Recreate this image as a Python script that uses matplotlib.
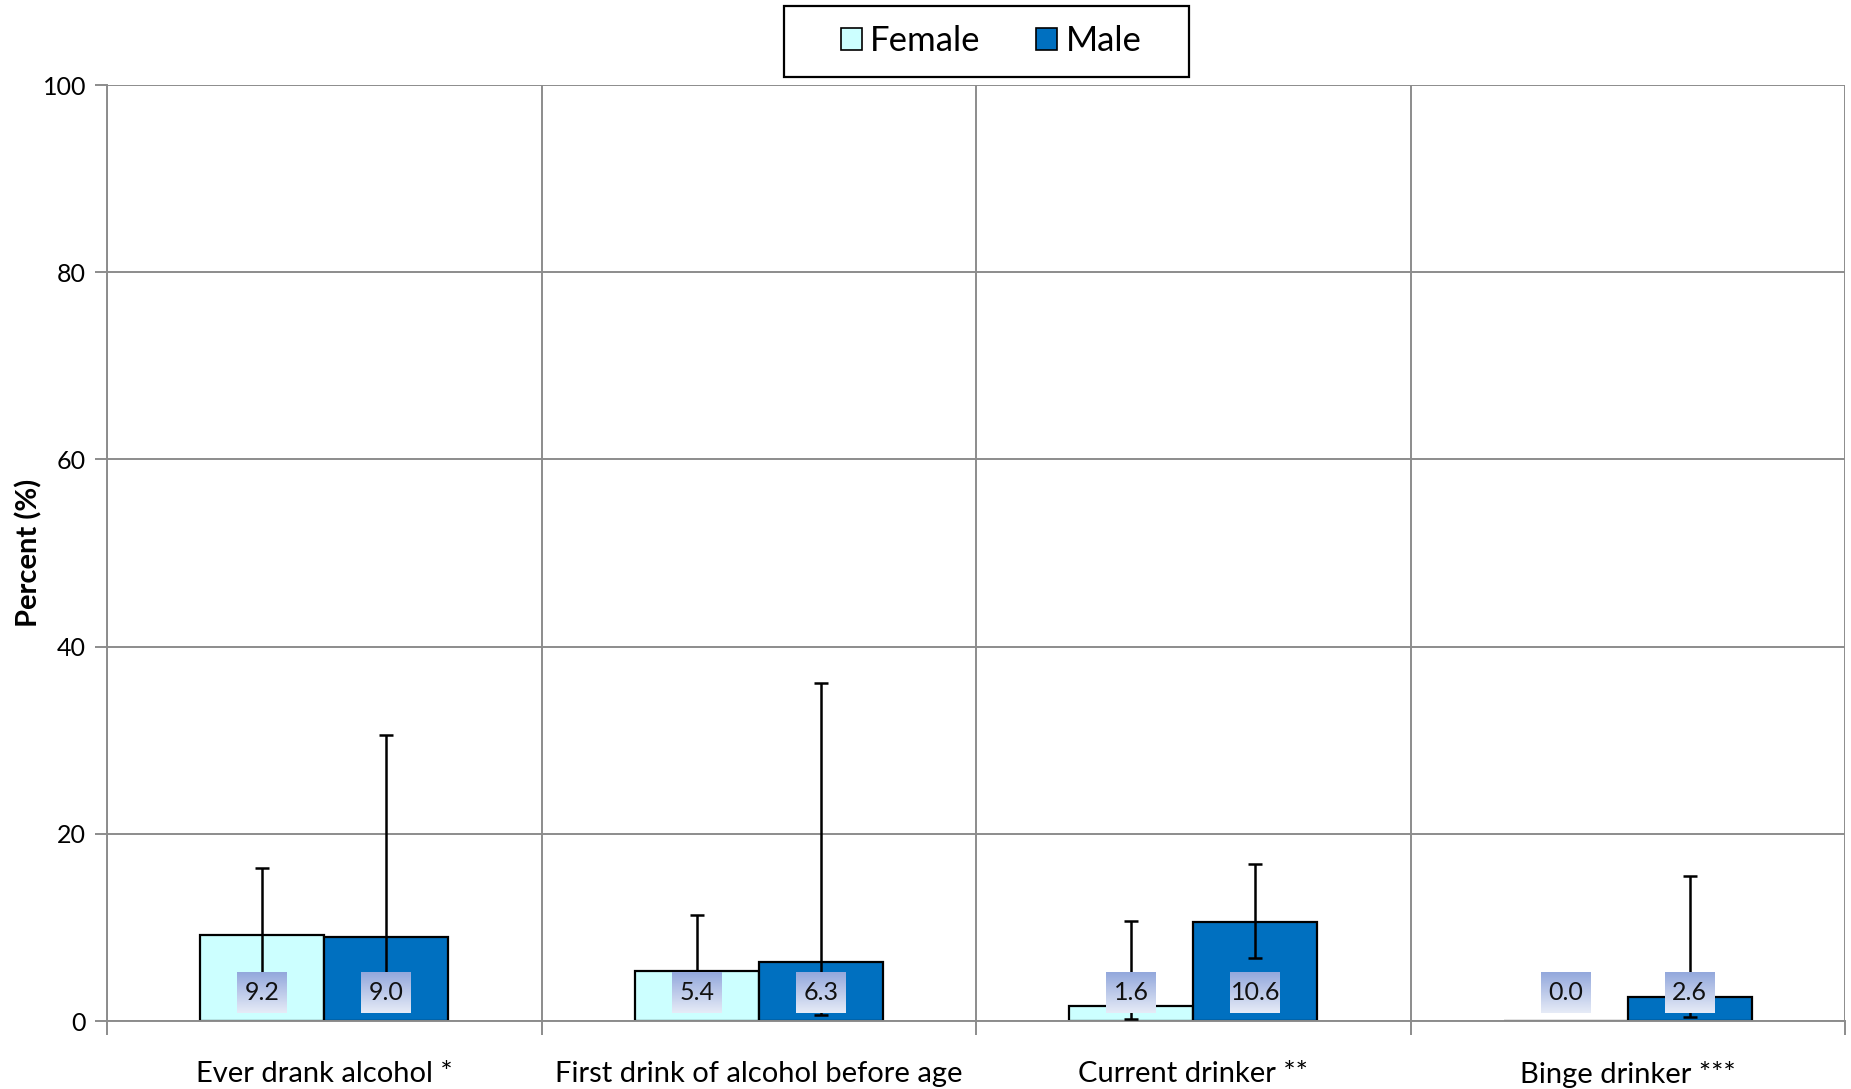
import matplotlib
matplotlib.use("Agg")
import matplotlib.pyplot as plt
import numpy as np
from matplotlib.colors import LinearSegmentedColormap
from matplotlib.patches import Patch, Rectangle

plt.rcParams['font.family'] = ['Lato', 'DejaVu Sans']

categories = ["Ever drank alcohol *", "First drink of alcohol before age",
              "Current drinker **", "Binge drinker ***"]
female = [9.2, 5.4, 1.6, 0.0]
male = [9.0, 6.3, 10.6, 2.6]
female_lo = [5.0, 2.5, 0.2, 0.0]
female_hi = [16.3, 11.3, 10.7, 0.0]
male_lo = [2.3, 0.6, 6.7, 0.4]
male_hi = [30.6, 36.1, 16.8, 15.5]
yticks = [0, 20, 40, 60, 80, 100]

fig = plt.figure(figsize=(18.51, 10.89), dpi=100)
ax = fig.add_axes([0.0578, 0.0624, 0.9390, 0.8595])

x = np.arange(len(categories))
w = 0.285
grid_c = '#8C8C8C'

ax.set_xlim(-0.5, len(categories) - 0.5)
ax.set_ylim(0, 100)

# grid
ax.set_yticks(yticks)
ax.set_xticks(np.arange(len(categories) + 1) - 0.5, minor=True)
ax.grid(True, axis='y', color=grid_c, lw=1.4, zorder=0)
ax.grid(True, axis='x', which='minor', color=grid_c, lw=1.4, zorder=0)
ax.set_axisbelow(True)

f_col = '#CCFFFF'
m_col = '#0070C0'
ax.bar(x - w / 2, female, w, color=f_col, edgecolor='black', lw=1.6, zorder=2, label='Female')
ax.bar(x + w / 2, male, w, color=m_col, edgecolor='black', lw=1.6, zorder=2, label='Male')

def errs(vals, lo, hi):
    v = np.array(vals); return np.vstack([v - np.array(lo), np.array(hi) - v])

fe = errs(female, female_lo, female_hi)
ax.errorbar(x[:3] - w / 2, female[:3], yerr=fe[:, :3], fmt='none', ecolor='black',
            elinewidth=1.8, capsize=5, capthick=1.8, zorder=3)
ax.errorbar(x + w / 2, male, yerr=errs(male, male_lo, male_hi), fmt='none', ecolor='black',
            elinewidth=1.8, capsize=5, capthick=1.8, zorder=3)

# data labels with gradient boxes
cmap = LinearSegmentedColormap.from_list('g', ['#E6EBF7', '#93A8DC'])
grad = np.linspace(0, 1, 64).reshape(-1, 1)
bw, y0, y1 = 0.0575, 0.85, 5.2
for xs, vals in ((x - w / 2, female), (x + w / 2, male)):
    for xi, v in zip(xs, vals):
        ax.imshow(grad, cmap=cmap, extent=[xi - bw, xi + bw, y0, y1], origin='lower',
                  aspect='auto', zorder=4)
        ax.text(xi, (y0 + y1) / 2, f"{v:.1f}", ha='center', va='center', fontsize=18,
                color='#111111', zorder=5)

ax.set_xlim(-0.5, len(categories) - 0.5)
ax.set_ylim(0, 100)

# ticks
ax.set_xticks(x)
ax.set_xticklabels(categories, fontsize=21)
ax.tick_params(axis='x', which='major', length=0, pad=28.5)
ax.tick_params(axis='x', which='minor', length=10, color=grid_c, width=1.4)
ax.tick_params(axis='y', length=9, color=grid_c, width=1.4, labelsize=18, pad=6)

for s in ['top', 'right']:
    ax.spines[s].set_visible(False)
for s in ['left', 'bottom']:
    ax.spines[s].set_color(grid_c)
    ax.spines[s].set_linewidth(1.4)

ax.set_ylabel('Percent (%)', fontsize=21, fontweight='bold', labelpad=0)

handles = [Patch(facecolor=f_col, edgecolor='black', lw=1.2, label='Female'),
           Patch(facecolor=m_col, edgecolor='black', lw=1.2, label='Male')]
leg = fig.legend(handles=handles, loc='center', bbox_to_anchor=(0.5355, 0.962), ncol=2,
                 fontsize=25, frameon=False,
                 handlelength=0.6, handleheight=0.6, handletextpad=0.25,
                 columnspacing=1.6, borderpad=0.3)
fig.patches.append(Rectangle((784 / 1851, 1 - 77 / 1089), 405 / 1851, 71 / 1089,
                             transform=fig.transFigure, fill=False, ec='black', lw=1.6))

fig.savefig('out.png', dpi=100)
